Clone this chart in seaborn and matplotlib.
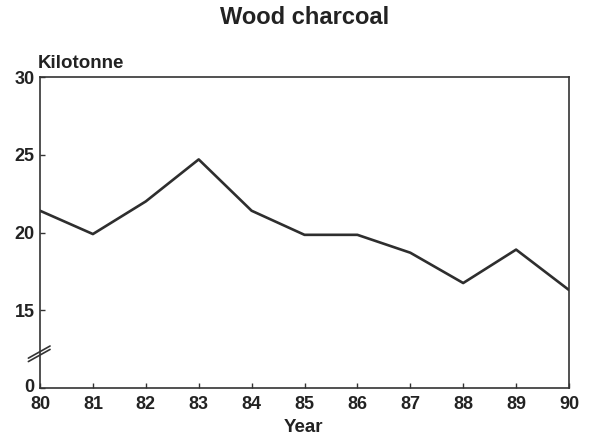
import matplotlib
matplotlib.use("Agg")
import matplotlib.pyplot as plt
import matplotlib.transforms as mtrans
import seaborn as sns
import pandas as pd

years = [80, 81, 82, 83, 84, 85, 86, 87, 88, 89, 90]
kilotonne = [21.4, 19.9, 22.0, 24.7, 21.4, 19.85, 19.85, 18.7, 16.75, 18.9, 16.3]
ytick_vals = [10, 15, 20, 25, 30]
ytick_labels = ["0", "15", "20", "25", "30"]

sns.set_style("ticks")
plt.rcParams['font.family'] = ['Liberation Sans', 'DejaVu Sans']
plt.rcParams['font.weight'] = 'bold'

fig = plt.figure(figsize=(5.95, 4.42), dpi=100)
ax = fig.add_axes([40/595, 1-388/442, (569-40)/595, (388-77)/442])

df = pd.DataFrame({"Year": years, "Kilotonne": kilotonne})
sns.lineplot(data=df, x="Year", y="Kilotonne", ax=ax, color="#2e2e2e", linewidth=1.9)

ax.set_xlim(80, 90)
ax.set_ylim(10, 30)
ax.set_xticks(years)
ax.set_xticklabels([str(y) for y in years], fontweight="bold")
ax.set_yticks(ytick_vals)
ax.set_yticklabels(ytick_labels, fontweight="bold")
ax.tick_params(direction="in", length=3.5, width=1, colors="#333333", labelsize=13)
ax.tick_params(axis="x", pad=6)
ax.tick_params(axis="y", pad=4)
for s in ax.spines.values():
    s.set_color("#333333")
    s.set_linewidth(1.2)
ax.set_xlabel("")
ax.set_ylabel("")
fig.text(303/595, 1-428/442, "Year", fontsize=13.5, fontweight="bold",
         color="#222222", ha="center", va="center")
fig.text(38/595, 1-68/442, "Kilotonne", fontsize=13.5, fontweight="bold",
         color="#222222", ha="left", va="baseline")
fig.text(305/595, 1-18/442, "Wood charcoal", fontsize=17, fontweight="bold",
         color="#222222", ha="center", va="center")

# axis break marks
for dy in (0.0, 0.011):
    ax.plot([-0.022, 0.019], [0.085 + dy, 0.124 + dy], transform=ax.transAxes,
            color="#333333", linewidth=1.2, clip_on=False)

for lbl in ax.get_xticklabels() + ax.get_yticklabels():
    lbl.set_color("#222222")
zero_lbl = ax.get_yticklabels()[0]
zero_lbl.set_transform(zero_lbl.get_transform() +
                       mtrans.ScaledTranslation(0, 2/72, fig.dpi_scale_trans))

fig.savefig("out.png", dpi=100)
